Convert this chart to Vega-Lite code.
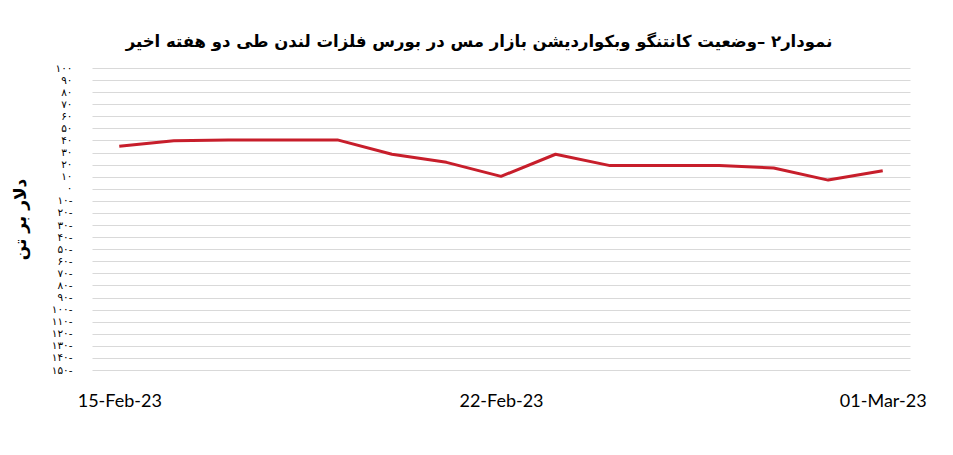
{
  "$schema": "https://vega.github.io/schema/vega-lite/v6.json",
  "autosize": {"type": "none"},
  "width": 818,
  "height": 302,
  "padding": {"left": 92, "top": 68, "right": 43, "bottom": 85},
  "background": "white",
  "title": {
    "text": "نمودار۲ –وضعیت کانتنگو وبکواردیشن بازار مس در بورس فلزات لندن طی دو هفته اخیر",
    "font": "DejaVu Sans",
    "fontSize": 16.5,
    "fontWeight": "bold",
    "color": "#000000",
    "anchor": "middle",
    "dx": -22,
    "offset": 13
  },
  "data": {
    "values": [
      {"date": "15-Feb-23", "value": 35.3},
      {"date": "16-Feb-23", "value": 39.7},
      {"date": "17-Feb-23", "value": 40.5},
      {"date": "18-Feb-23", "value": 40.5},
      {"date": "19-Feb-23", "value": 40.5},
      {"date": "20-Feb-23", "value": 28.6},
      {"date": "21-Feb-23", "value": 21.9},
      {"date": "22-Feb-23", "value": 10.3},
      {"date": "23-Feb-23", "value": 28.6},
      {"date": "24-Feb-23", "value": 19.2},
      {"date": "25-Feb-23", "value": 19.2},
      {"date": "26-Feb-23", "value": 19.2},
      {"date": "27-Feb-23", "value": 17.2},
      {"date": "28-Feb-23", "value": 7.2},
      {"date": "01-Mar-23", "value": 15.0}
    ]
  },
  "mark": {"type": "line", "color": "#C71E2B", "strokeWidth": 3, "strokeJoin": "round"},
  "encoding": {
    "x": {
      "field": "date",
      "type": "nominal",
      "sort": null,
      "scale": {"type": "point", "padding": 0.5},
      "axis": {
        "title": null,
        "values": ["15-Feb-23", "22-Feb-23", "01-Mar-23"],
        "labelAngle": 0,
        "labelFont": "Lato",
        "labelFontSize": 18,
        "labelColor": "#000000",
        "labelPadding": 22,
        "labelOverlap": false,
        "domain": false,
        "ticks": false,
        "grid": false
      }
    },
    "y": {
      "field": "value",
      "type": "quantitative",
      "scale": {"domain": [-150, 100], "nice": false, "zero": false},
      "axis": {
        "title": "دلار بر تن",
        "titleFont": "DejaVu Sans",
        "titleFontSize": 17,
        "titleFontWeight": "bold",
        "titleColor": "#000000",
        "titleX": -63,
        "titleY": 151,
        "values": [-150, -140, -130, -120, -110, -100, -90, -80, -70, -60, -50, -40, -30, -20, -10, 0, 10, 20, 30, 40, 50, 60, 70, 80, 90, 100],
        "labelExpr": "replace(replace(replace(replace(replace(replace(replace(replace(replace(replace(format(abs(datum.value), 'd'), regexp('0', 'g'), '۰'), regexp('1', 'g'), '۱'), regexp('2', 'g'), '۲'), regexp('3', 'g'), '۳'), regexp('4', 'g'), '۴'), regexp('5', 'g'), '۵'), regexp('6', 'g'), '۶'), regexp('7', 'g'), '۷'), regexp('8', 'g'), '۸'), regexp('9', 'g'), '۹') + (datum.value < 0 ? '-' : '')",
        "labelFont": "DejaVu Sans",
        "labelFontSize": 10.5,
        "labelColor": "#000000",
        "labelPadding": 20,
        "labelOverlap": false,
        "domain": false,
        "ticks": false,
        "grid": true,
        "gridColor": "#D9D9D9",
        "gridWidth": 1
      }
    }
  },
  "config": {"view": {"stroke": null}}
}
